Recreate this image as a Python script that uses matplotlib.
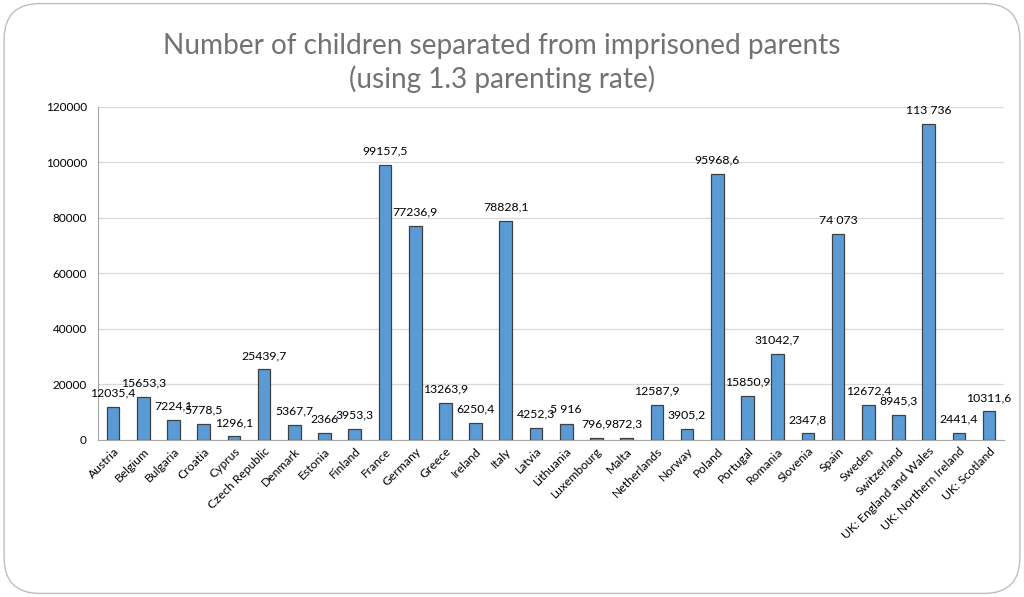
import matplotlib
matplotlib.use("Agg")
import matplotlib.pyplot as plt
from matplotlib.patches import FancyBboxPatch

countries = ["Austria", "Belgium", "Bulgaria", "Croatia", "Cyprus", "Czech Republic",
             "Denmark", "Estonia", "Finland", "France", "Germany", "Greece", "Ireland",
             "Italy", "Latvia", "Lithuania", "Luxembourg", "Malta", "Netherlands",
             "Norway", "Poland", "Portugal", "Romania", "Slovenia", "Spain", "Sweden",
             "Switzerland", "UK: England and Wales", "UK: Northern Ireland", "UK: Scotland"]
values = [12035.4, 15653.3, 7224.1, 5778.5, 1296.1, 25439.7, 5367.7, 2366, 3953.3,
          99157.5, 77236.9, 13263.9, 6250.4, 78828.1, 4252.3, 5916, 796.9, 872.3,
          12587.9, 3905.2, 95968.6, 15850.9, 31042.7, 2347.8, 74073, 12672.4, 8945.3,
          113736, 2441.4, 10311.6]
value_labels = ["12035,4", "15653,3", "7224,1", "5778,5", "1296,1", "25439,7", "5367,7",
                "2366", "3953,3", "99157,5", "77236,9", "13263,9", "6250,4", "78828,1",
                "4252,3", "5 916", "796,9", "872,3", "12587,9", "3905,2", "95968,6",
                "15850,9", "31042,7", "2347,8", "74 073", "12672,4", "8945,3", "113 736",
                "2441,4", "10311,6"]
yticks = [0, 20000, 40000, 60000, 80000, 100000, 120000]

plt.rcParams['font.family'] = ['Lato', 'DejaVu Sans']

fig = plt.figure(figsize=(10.24, 5.97), dpi=100)
fig.patch.set_facecolor('white')
border = FancyBboxPatch((0.004, 0.006), 0.992, 0.988,
                        boxstyle="round,pad=0,rounding_size=0.035",
                        transform=fig.transFigure, facecolor='none',
                        edgecolor='#bfbfbf', linewidth=1.0, mutation_aspect=1024/597)
fig.patches.append(border)

ax = fig.add_axes([0.0957, 0.263, 0.885, 0.558])
x = list(range(len(countries)))
ax.bar(x, values, width=0.42, color='#5B9BD5', edgecolor='#404040', linewidth=0.9, zorder=3)
for xi, v, lab in zip(x, values, value_labels):
    ax.annotate(lab, (xi, v), xytext=(0, 6), textcoords='offset points',
                ha='center', va='bottom', fontsize=8.8, color='black', zorder=4)

ax.set_xlim(-0.5, len(countries) - 0.5)
ax.set_ylim(0, 120000)
ax.set_yticks(yticks)
ax.set_yticklabels([str(t) for t in yticks], fontsize=8.5)
ax.set_xticks(x)
ax.set_xticklabels(countries, rotation=45, ha='right', rotation_mode='anchor', fontsize=8.7)
ax.tick_params(axis='both', length=0, pad=8)
ax.tick_params(axis='x', pad=4)
ax.grid(axis='y', color='#d9d9d9', linewidth=0.9, zorder=0)
for s in ['top', 'right']:
    ax.spines[s].set_visible(False)
ax.spines['left'].set_color('#a6a6a6')
ax.spines['bottom'].set_color('#a6a6a6')

fig.text(0.49, 0.894, "Number of children separated from imprisoned parents\n(using 1.3 parenting rate)",
         ha='center', va='center', fontsize=20.2, color='#767171', linespacing=1.28)

fig.savefig("out.png", dpi=100)
